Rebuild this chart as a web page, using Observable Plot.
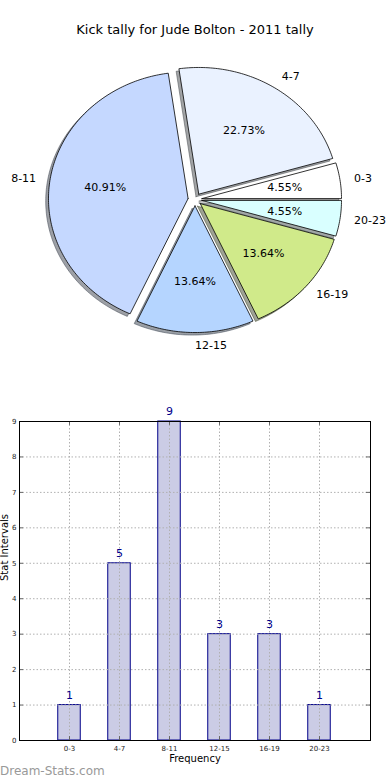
<!DOCTYPE html>
<html><head><meta charset="utf-8">
<script src="https://cdn.jsdelivr.net/npm/d3@7"></script>
<script src="https://cdn.jsdelivr.net/npm/@observablehq/plot@0.6"></script>
<style>
body{margin:0;width:390px;height:780px;position:relative;font-family:"DejaVu Sans",sans-serif;background:#fff;overflow:hidden}
#title{position:absolute;top:22px;left:0;width:390px;text-align:center;font-size:13px;line-height:16px;color:#000}
#pie{position:absolute;top:50px;left:0}
#bar{position:absolute;top:400px;left:0}
#wm{position:absolute;left:0;top:763px;font-size:12px;line-height:16px;color:#999}
svg{font-family:"DejaVu Sans",sans-serif;overflow:visible}
</style></head><body>
<div id="title"></div>
<div id="pie"></div><div id="bar"></div><div id="wm"></div>
<script>
const chartTitle = "Kick tally for Jude Bolton - 2011 tally";
const watermark = "Dream-Stats.com";
const categories = ["0-3", "4-7", "8-11", "12-15", "16-19", "20-23"];
const tally = [1, 5, 9, 3, 3, 1];
const sliceColors = ["#ffffff", "#eaf2ff", "#c5d8ff", "#b5d5ff", "#d0ea8a", "#d9ffff"];
const yTicks = [0, 1, 2, 3, 4, 5, 6, 7, 8, 9];
const xLabel = "Frequency";
const yLabel = "Stat Intervals";

document.getElementById("title").textContent = chartTitle;
document.getElementById("wm").textContent = watermark;

// ---- pie ----
const total = d3.sum(tally);
const explode = 0.05, labelDist = 1.1, pctDist = 0.6;
let acc = 0;
const slices = categories.map((c, i) => {
  const a0 = acc, a1 = acc + tally[i] / total * 2 * Math.PI;
  acc = a1;
  const mid = (a0 + a1) / 2;
  return {cat: c, value: tally[i], a0, a1, mid, color: sliceColors[i],
          cx: explode * Math.cos(mid), cy: explode * Math.sin(mid)};
});
function wedge(s, dx = 0, dy = 0) {
  const pts = [[s.cx + dx, s.cy + dy]];
  const n = Math.max(2, Math.ceil((s.a1 - s.a0) / (Math.PI / 180)));
  for (let k = 0; k <= n; k++) {
    const a = s.a0 + (s.a1 - s.a0) * k / n;
    pts.push([s.cx + dx + Math.cos(a), s.cy + dy + Math.sin(a)]);
  }
  pts.push([s.cx + dx, s.cy + dy]);
  return pts;
}
function shadowColor(c) {
  const r = d3.rgb(c);
  return d3.rgb(r.r * 0.3, r.g * 0.3, r.b * 0.3).formatHex();
}
const lx = s => s.cx + labelDist * Math.cos(s.mid);
const ly = s => s.cy + labelDist * Math.sin(s.mid);
const rightSide = slices.filter(s => Math.cos(s.mid) > -1e-6);
const leftSide = slices.filter(s => Math.cos(s.mid) <= -1e-6);

const pie = Plot.plot({
  width: 390, height: 320, margin: 0,
  x: {domain: [-1.3933, 1.4004], axis: null},
  y: {domain: [-1.3496, 1.176], axis: null},
  marks: [
    ...slices.map(s => Plot.line(wedge(s, -0.02, -0.02), {
      x: d => d[0], y: d => d[1], fill: shadowColor(s.color), fillOpacity: 0.5,
      stroke: shadowColor(s.color), strokeOpacity: 0.5, strokeWidth: 1})),
    ...slices.map(s => Plot.line(wedge(s), {
      x: d => d[0], y: d => d[1], fill: s.color, stroke: "#000", strokeWidth: 0.8,
      strokeLinejoin: "miter"})),
    Plot.text(slices, {
      x: s => s.cx + pctDist * Math.cos(s.mid), y: s => s.cy + pctDist * Math.sin(s.mid),
      text: s => (s.value / total * 100).toFixed(2) + "%", fontSize: 11, fill: "#000"}),
    Plot.text(rightSide, {x: lx, y: ly, text: "cat", textAnchor: "start", fontSize: 11, fill: "#000"}),
    Plot.text(leftSide, {x: lx, y: ly, text: "cat", textAnchor: "end", fontSize: 11, fill: "#000"})
  ]
});
document.getElementById("pie").append(pie);

// ---- bars ----
const barData = tally.map((v, i) => ({i, v, cat: categories[i]}));
const idx = categories.map((c, i) => i);
const xMin = -1, xMax = 6.02, yMax = 9;
const bar = Plot.plot({
  width: 390, height: 380, marginTop: 21, marginBottom: 40, marginLeft: 19, marginRight: 20,
  x: {domain: [xMin, xMax], axis: null},
  y: {domain: [0, yMax], axis: null},
  marks: [
    Plot.rectY(barData, {x1: d => d.i - 0.225, x2: d => d.i + 0.225, y1: 0, y2: "v",
      fill: "#cbcce5", stroke: "#000088", strokeWidth: 1}),
    Plot.ruleY(yTicks.slice(1, -1), {stroke: "#b0b0b0", strokeDasharray: "1.5,2", strokeWidth: 1}),
    Plot.ruleX(idx, {stroke: "#b0b0b0", strokeDasharray: "1.5,2", strokeWidth: 1}),
    Plot.ruleY(yTicks, {x1: xMin, x2: xMin + 0.08, stroke: "#666"}),
    Plot.ruleY(yTicks, {x1: xMax - 0.08, x2: xMax, stroke: "#666"}),
    Plot.ruleX(idx, {y1: 0, y2: 0.11, stroke: "#666"}),
    Plot.ruleX(idx, {y1: yMax - 0.11, y2: yMax, stroke: "#666"}),
    Plot.frame({stroke: "#000", strokeWidth: 1}),
    Plot.text(yTicks, {x: xMin, y: d => d, text: d => String(d), dx: -3, textAnchor: "end", fontSize: 7, fill: "#222"}),
    Plot.text(idx, {x: d => d, y: 0, text: d => categories[d], dy: 8, lineAnchor: "middle", fontSize: 7, fill: "#222"}),
    Plot.text(barData, {x: "i", y: "v", text: d => String(d.v), dy: -10, fontSize: 11, fill: "#00008b"}),
    Plot.text([xLabel], {frameAnchor: "bottom", dy: 21, text: d => d, fontSize: 10, fill: "#000"}),
    Plot.text([yLabel], {frameAnchor: "left", dx: -15, rotate: -90, text: d => d, fontSize: 10, fill: "#000"})
  ]
});
document.getElementById("bar").append(bar);
</script>
</body></html>
